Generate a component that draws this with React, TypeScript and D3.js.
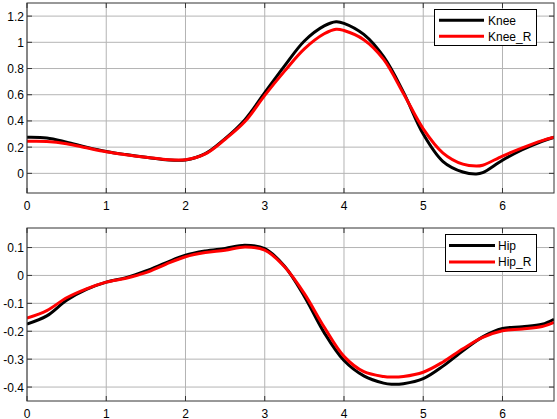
import React from "react";
import * as d3 from "d3";

const kneeX = [0, 0.25, 0.5, 0.75, 1.0, 1.25, 1.5, 1.75, 2.0, 2.25, 2.5, 2.75, 3.0, 3.25, 3.5, 3.75, 3.9, 4.0, 4.25, 4.5, 4.75, 5.0, 5.25, 5.5, 5.67, 5.75, 6.0, 6.25, 6.5, 6.65];
const knee = [0.275, 0.27, 0.238, 0.2, 0.167, 0.143, 0.122, 0.104, 0.102, 0.15, 0.265, 0.41, 0.615, 0.82, 1.01, 1.125, 1.157, 1.145, 1.06, 0.89, 0.62, 0.3, 0.09, 0.01, -0.005, 0.005, 0.1, 0.18, 0.245, 0.275];
const kneeR = [0.244, 0.243, 0.226, 0.195, 0.165, 0.142, 0.122, 0.106, 0.104, 0.148, 0.26, 0.395, 0.595, 0.78, 0.95, 1.065, 1.1, 1.09, 1.02, 0.87, 0.61, 0.34, 0.155, 0.07, 0.056, 0.062, 0.132, 0.195, 0.25, 0.275];

const hipX = [0, 0.25, 0.5, 0.75, 1.0, 1.25, 1.5, 1.75, 2.0, 2.25, 2.5, 2.75, 3.0, 3.25, 3.5, 3.75, 4.0, 4.25, 4.5, 4.6, 4.75, 5.0, 5.25, 5.5, 5.75, 6.0, 6.25, 6.5, 6.65];
const hip = [-0.174, -0.145, -0.089, -0.05, -0.024, -0.008, 0.016, 0.045, 0.073, 0.088, 0.097, 0.108, 0.096, 0.033, -0.075, -0.205, -0.305, -0.36, -0.386, -0.39, -0.388, -0.37, -0.325, -0.27, -0.22, -0.19, -0.184, -0.175, -0.157];
const hipR = [-0.153, -0.126, -0.08, -0.048, -0.024, -0.01, 0.01, 0.04, 0.067, 0.082, 0.09, 0.102, 0.091, 0.031, -0.065, -0.185, -0.29, -0.345, -0.362, -0.364, -0.362, -0.347, -0.31, -0.263, -0.222, -0.198, -0.192, -0.183, -0.168];

const xTicks = [0, 1, 2, 3, 4, 5, 6];
const kneeYTicks = [0, 0.2, 0.4, 0.6, 0.8, 1, 1.2];
const hipYTicks = [-0.4, -0.3, -0.2, -0.1, 0, 0.1];

const FONT = "'Liberation Sans', Arial, sans-serif";
const FS = 12;

type PanelProps = {
  id: string;
  top: number;
  bottom: number;
  yDomain: [number, number];
  yTicks: number[];
  xs: number[];
  a: number[];
  b: number[];
  names: [string, string];
  legend: { x0: number; x1: number; y0: number; y1: number; lx0: number; lx1: number; tx: number };
};

function fmt(v: number) {
  return String(+v.toFixed(2));
}

function Panel(p: PanelProps) {
  const left = 27, right = 554;
  const x = d3.scaleLinear().domain([0, 6.65]).range([left, right]);
  const y = d3.scaleLinear().domain(p.yDomain).range([p.bottom, p.top]);
  const line = d3
    .line<number>()
    .x((_, i) => x(p.xs[i]))
    .y((d) => y(d))
    .curve(d3.curveCatmullRom.alpha(0.5));
  const L = p.legend;
  const rowY = [L.y0 + (L.y1 - L.y0) * 0.3, L.y0 + (L.y1 - L.y0) * 0.74];
  return (
    <g>
      <defs>
        <clipPath id={p.id}>
          <rect x={left} y={p.top} width={right - left} height={p.bottom - p.top} />
        </clipPath>
      </defs>
      <rect x={left} y={p.top} width={right - left} height={p.bottom - p.top} fill="#fff" />
      {xTicks.map((t) => (
        <line key={"gx" + t} x1={x(t)} x2={x(t)} y1={p.top} y2={p.bottom} stroke="#b4b4b4" strokeWidth={1} />
      ))}
      {p.yTicks.map((t) => (
        <line key={"gy" + t} x1={left} x2={right} y1={y(t)} y2={y(t)} stroke="#b4b4b4" strokeWidth={1} />
      ))}
      {xTicks.map((t) => (
        <g key={"tx" + t}>
          <line x1={x(t)} x2={x(t)} y1={p.bottom} y2={p.bottom - 5} stroke="#333" />
          <line x1={x(t)} x2={x(t)} y1={p.top} y2={p.top + 5} stroke="#333" />
          <text x={x(t)} y={p.bottom + 16.5} textAnchor="middle" fontSize={FS} fontFamily={FONT} fill="#000">
            {t}
          </text>
        </g>
      ))}
      {p.yTicks.map((t) => (
        <g key={"ty" + t}>
          <line x1={left} x2={left + 5} y1={y(t)} y2={y(t)} stroke="#333" />
          <line x1={right} x2={right - 5} y1={y(t)} y2={y(t)} stroke="#333" />
          <text x={left - 3} y={y(t) + 4.5} textAnchor="end" fontSize={FS} fontFamily={FONT} fill="#000">
            {fmt(t)}
          </text>
        </g>
      ))}
      <g clipPath={`url(#${p.id})`}>
        <path d={line(p.a) || ""} fill="none" stroke="#000" strokeWidth={3} strokeLinejoin="round" />
        <path d={line(p.b) || ""} fill="none" stroke="#ff0000" strokeWidth={3} strokeLinejoin="round" />
      </g>
      <rect x={left} y={p.top} width={right - left} height={p.bottom - p.top} fill="none" stroke="#333" strokeWidth={1} />
      <rect x={L.x0} y={L.y0} width={L.x1 - L.x0} height={L.y1 - L.y0} fill="#fff" stroke="#000" strokeWidth={1} />
      <line x1={L.lx0} x2={L.lx1} y1={rowY[0]} y2={rowY[0]} stroke="#000" strokeWidth={3} />
      <line x1={L.lx0} x2={L.lx1} y1={rowY[1]} y2={rowY[1]} stroke="#ff0000" strokeWidth={3} />
      <text x={L.tx} y={rowY[0] + 4.5} fontSize={FS} fontFamily={FONT} fill="#000">
        {p.names[0]}
      </text>
      <text x={L.tx} y={rowY[1] + 4.5} fontSize={FS} fontFamily={FONT} fill="#000">
        {p.names[1]}
      </text>
    </g>
  );
}

export default function App() {
  return (
    <svg
      width={557}
      height={419}
      style={{ position: "absolute", left: 0, top: 0, background: "#fff" }}
      xmlns="http://www.w3.org/2000/svg"
    >
      <rect x={0} y={0} width={557} height={419} fill="#fff" />
      <Panel
        id="clipKnee"
        top={3}
        bottom={193}
        yDomain={[-0.15, 1.3]}
        yTicks={kneeYTicks}
        xs={kneeX}
        a={knee}
        b={kneeR}
        names={["Knee", "Knee_R"]}
        legend={{ x0: 434.5, x1: 536.5, y0: 9.5, y1: 45.5, lx0: 439, lx1: 484, tx: 488 }}
      />
      <Panel
        id="clipHip"
        top={228}
        bottom={401}
        yDomain={[-0.45, 0.17]}
        yTicks={hipYTicks}
        xs={hipX}
        a={hip}
        b={hipR}
        names={["Hip", "Hip_R"]}
        legend={{ x0: 445.5, x1: 536.5, y0: 234.5, y1: 271.5, lx0: 449, lx1: 495, tx: 498 }}
      />
    </svg>
  );
}
